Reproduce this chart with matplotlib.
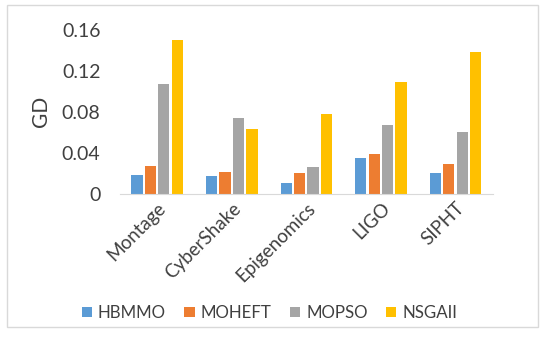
import numpy as np
import matplotlib.pyplot as plt
from matplotlib.patches import Rectangle

workflows = ['Montage', 'CyberShake', 'Epigenomics', 'LIGO', 'SIPHT']
hbmmo = [0.018, 0.017, 0.011, 0.035, 0.020]
moheft = [0.027, 0.021, 0.020, 0.039, 0.029]
mopso = [0.107, 0.074, 0.026, 0.067, 0.060]
nsgaii = [0.150, 0.063, 0.078, 0.109, 0.138]
yticks = [0, 0.04, 0.08, 0.12, 0.16]
ytick_labels = ['0', '0.04', '0.08', '0.12', '0.16']

plt.rcParams['font.family'] = ['Lato', 'DejaVu Sans']

fig = plt.figure(figsize=(5.5, 3.39), dpi=100)
ax = fig.add_axes([0.218, 0.428, 0.678, 0.484])

x = np.arange(len(workflows))
w = 0.15
step = 0.18
series = [('HBMMO', hbmmo, '#5B9BD5'), ('MOHEFT', moheft, '#ED7D31'),
          ('MOPSO', mopso, '#A5A5A5'), ('NSGAII', nsgaii, '#FFC000')]
for i, (name, vals, col) in enumerate(series):
    ax.bar(x + (i - 1.5) * step, vals, w, color=col, label=name)

ax.set_xlim(-0.5, len(workflows) - 0.5)
ax.set_ylim(0, 0.16)
ax.set_yticks(yticks)
ax.set_yticklabels(ytick_labels, fontsize=14, color='#404040')
ax.set_xticks(x)
ax.set_xticklabels(workflows, rotation=45, ha='right', rotation_mode='anchor',
                   fontsize=13.5, color='#404040')
ax.tick_params(axis='x', length=0, pad=4)
ax.tick_params(axis='y', length=0, pad=14)
ax.set_ylabel('GD', fontsize=15, color='#404040', labelpad=8)
for s in ['top', 'right', 'left']:
    ax.spines[s].set_visible(False)
ax.spines['bottom'].set_color('#d9d9d9')

fig.legend(loc='center', bbox_to_anchor=(0.49, 0.077), ncol=4, frameon=False,
           handlelength=0.6, handleheight=0.6, handletextpad=0.35,
           columnspacing=1.1, fontsize=12.2, labelcolor='#404040')

fig.patches.append(Rectangle((0.013, 0.035), 0.965, 0.95, transform=fig.transFigure,
                             fill=False, edgecolor='#d9d9d9', linewidth=1))

fig.savefig('out.png', dpi=100)
